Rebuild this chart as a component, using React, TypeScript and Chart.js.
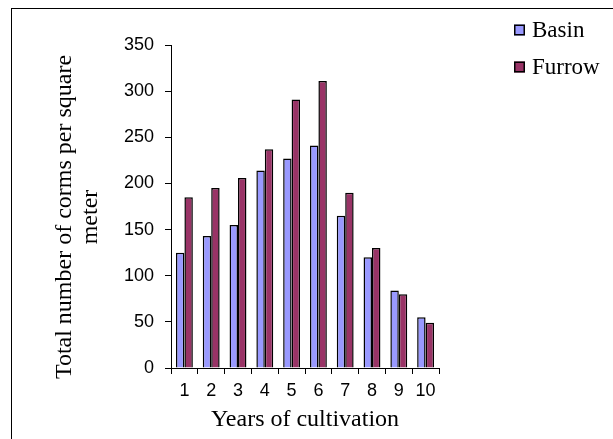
import React, { useEffect, useRef } from "react";
import { Chart, registerables } from "chart.js";

Chart.register(...registerables);

const categories = ["1", "2", "3", "4", "5", "6", "7", "8", "9", "10"];
const basinValues = [125, 143, 155, 214, 227, 241, 165, 120, 84, 55];
const furrowValues = [185, 195, 206, 237, 291, 311, 190, 130, 80, 49];
const seriesNames = ["Basin", "Furrow"];
const seriesColors = ["#9999FF", "#993366"];
const yMin = 0;
const yMax = 350;
const yStep = 50;
const xTitle = "Years of cultivation";
const yTitleLines = ["Total number of corms per square", "meter"];

const SERIF = '"Liberation Serif", "Times New Roman", serif';
const SANS = '"Liberation Sans", Arial, sans-serif';

const sideLegend = {
  id: "sideLegend",
  afterDraw(chart: any, _args: any, opts: any) {
    const ctx = chart.ctx;
    ctx.save();
    ctx.font = `${opts.fontSize}px ${SERIF}`;
    ctx.textBaseline = "middle";
    ctx.textAlign = "left";
    chart.data.datasets.forEach((ds: any, i: number) => {
      const cy = opts.y + i * opts.rowGap;
      const s = opts.box;
      ctx.fillStyle = ds.backgroundColor;
      ctx.fillRect(opts.x, cy - s / 2, s, s);
      ctx.strokeStyle = "#000";
      ctx.lineWidth = 1.5;
      ctx.strokeRect(opts.x + 0.75, cy - s / 2 + 0.75, s - 1.5, s - 1.5);
      ctx.fillStyle = "#000";
      ctx.fillText(ds.label, opts.x + s + opts.gap, cy + 1);
    });
    ctx.restore();
  },
};

const yTitlePlugin = {
  id: "yTitle",
  afterDraw(chart: any, _args: any, opts: any) {
    const ctx = chart.ctx;
    ctx.save();
    ctx.font = `${opts.fontSize}px ${SERIF}`;
    ctx.fillStyle = "#000";
    ctx.textAlign = "center";
    ctx.textBaseline = "middle";
    opts.lines.forEach((line: string, i: number) => {
      ctx.save();
      ctx.translate(opts.x + i * opts.lineGap, opts.y);
      ctx.rotate(-Math.PI / 2);
      ctx.fillText(line, 0, 0);
      ctx.restore();
    });
    ctx.restore();
  },
};

export default function App() {
  const canvasRef = useRef<HTMLCanvasElement | null>(null);

  useEffect(() => {
    if (!canvasRef.current) return;
    const chart = new Chart(canvasRef.current, {
      type: "bar",
      data: {
        labels: categories,
        datasets: [
          {
            label: seriesNames[0],
            data: basinValues,
            backgroundColor: seriesColors[0],
            borderColor: "#000",
            borderWidth: 1.5,
            categoryPercentage: 0.63,
            barPercentage: 1.0,
          },
          {
            label: seriesNames[1],
            data: furrowValues,
            backgroundColor: seriesColors[1],
            borderColor: "#000",
            borderWidth: 1.5,
            categoryPercentage: 0.63,
            barPercentage: 1.0,
          },
        ],
      },
      options: {
        animation: false,
        responsive: false,
        devicePixelRatio: 1,
        layout: { padding: { top: 45, right: 174, bottom: 0, left: 0 } },
        plugins: {
          legend: { display: false },
          tooltip: { enabled: false },
          sideLegend: { x: 514, y: 30, rowGap: 37, box: 11, gap: 7, fontSize: 23 },
          yTitle: { x: 65, y: 217, lineGap: 26, fontSize: 24, lines: yTitleLines },
        } as any,
        scales: {
          x: {
            grid: {
              display: true,
              drawOnChartArea: false,
              drawTicks: true,
              tickLength: 6,
              color: "#000",
              offset: true,
            },
            border: { display: true, color: "#000", width: 1 },
            ticks: {
              color: "#000",
              font: { family: SANS, size: 18 },
              padding: 6,
              maxRotation: 0,
              autoSkip: false,
            },
            title: {
              display: true,
              text: xTitle,
              color: "#000",
              font: { family: SERIF, size: 24 },
              padding: { top: 0, bottom: 5 },
            },
            afterFit: (s: any) => {
              s.height = 71;
            },
          },
          y: {
            min: yMin,
            max: yMax,
            grid: {
              display: true,
              drawOnChartArea: false,
              drawTicks: true,
              tickLength: 6,
              color: "#000",
            },
            border: { display: true, color: "#000", width: 1 },
            ticks: {
              stepSize: yStep,
              color: "#000",
              font: { family: SANS, size: 18 },
              padding: 11,
            },
            afterFit: (s: any) => {
              s.width = 171;
            },
          },
        },
      },
      plugins: [sideLegend, yTitlePlugin],
    });
    return () => chart.destroy();
  }, []);

  return (
    <div style={{ position: "fixed", left: 0, top: 0, width: 613, height: 439, overflow: "hidden", background: "#fff" }}>
      <div
        style={{
          position: "absolute",
          left: 11,
          top: 8,
          width: 800,
          height: 600,
          border: "1px solid #000",
          boxSizing: "border-box",
        }}
      />
      <canvas
        ref={canvasRef}
        width={613}
        height={439}
        style={{ position: "absolute", left: 0, top: 0, width: 613, height: 439 }}
      />
    </div>
  );
}
